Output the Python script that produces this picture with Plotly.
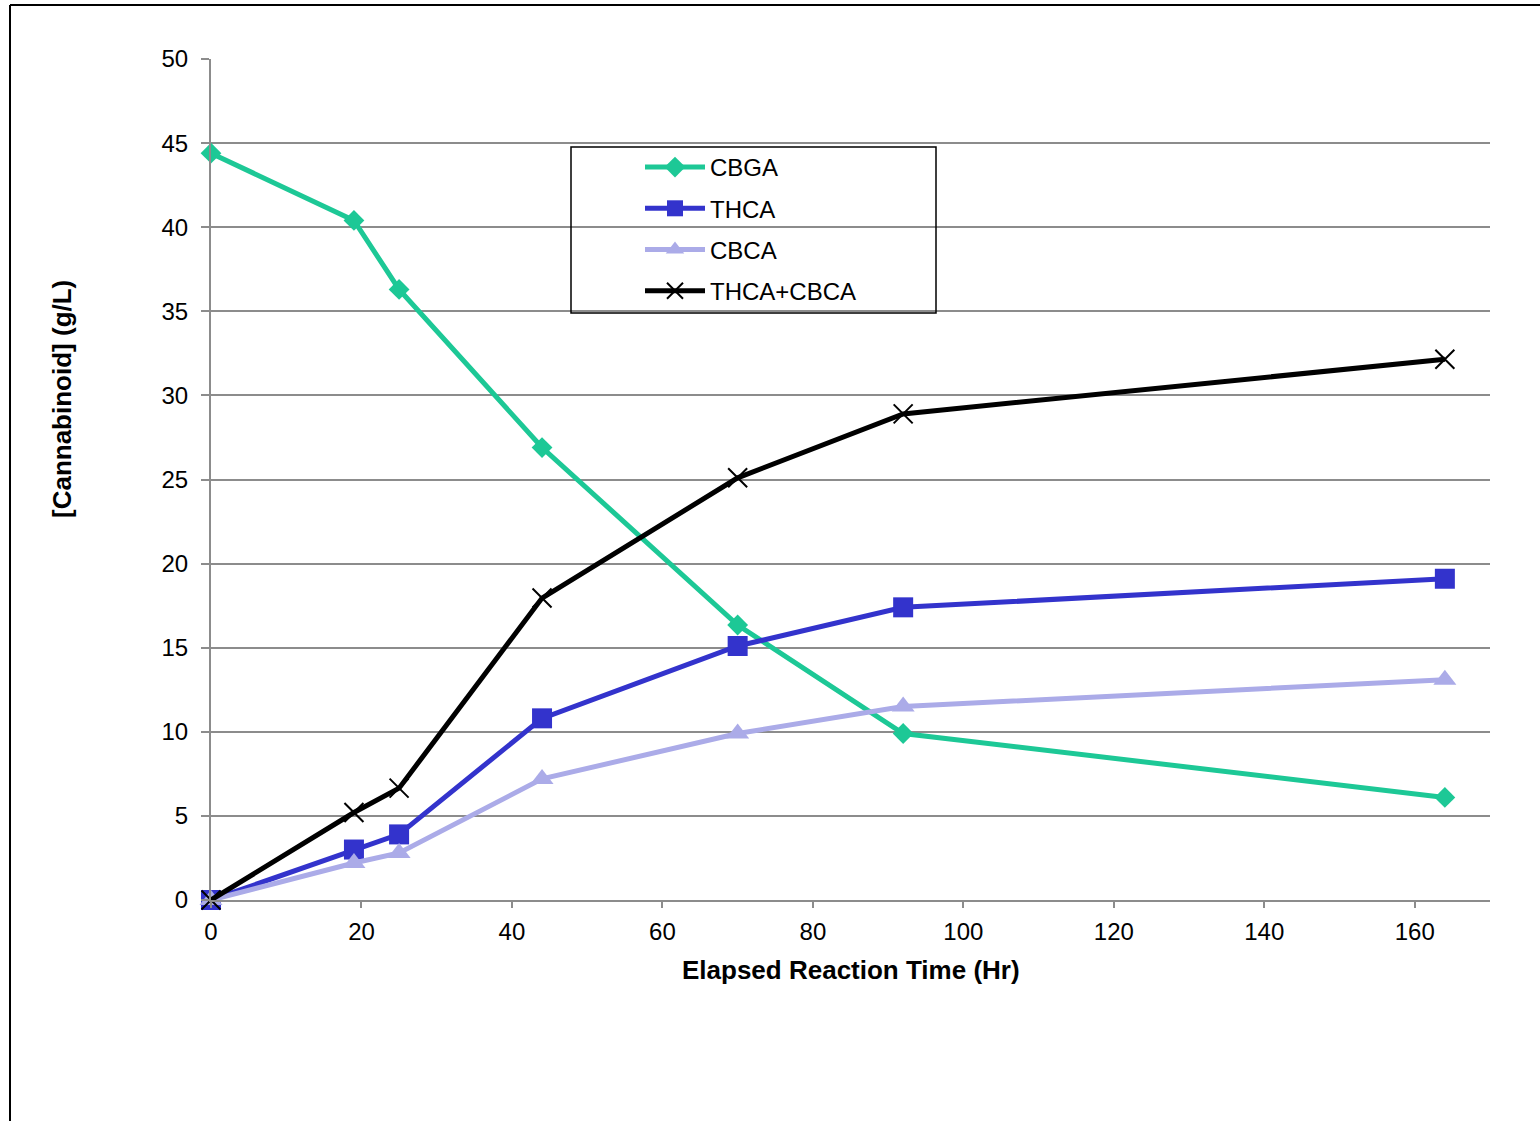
import plotly.graph_objects as go

time_hr = [0, 19, 25, 44, 70, 92, 164]
cbga = [44.4, 40.4, 36.3, 26.9, 16.35, 9.9, 6.1]
thca = [0.0, 3.0, 3.9, 10.8, 15.1, 17.4, 19.1]
cbca = [0.0, 2.2, 2.8, 7.2, 9.9, 11.5, 13.1]
thca_cbca = [0.0, 5.2, 6.65, 17.95, 25.1, 28.9, 32.15]

x_ticks = [0, 20, 40, 60, 80, 100, 120, 140, 160]
y_ticks = [0, 5, 10, 15, 20, 25, 30, 35, 40, 45, 50]

FONT = "Liberation Sans, Arial, sans-serif"

fig = go.Figure()
series = [
    ("CBGA", cbga, "#1DC896", dict(symbol="diamond", size=16, color="#1DC896")),
    ("THCA", thca, "#3333CC", dict(symbol="square", size=20, color="#3333CC")),
    ("CBCA", cbca, "#ABABE8", dict(symbol="triangle-up", size=20, color="#ABABE8")),
    ("THCA+CBCA", thca_cbca, "#000000",
     dict(symbol="x-thin", size=19, color="#000000", line=dict(color="#000000", width=2))),
]
for i, (name, vals, col, mk) in enumerate(series):
    fig.add_trace(go.Scatter(
        x=time_hr, y=vals, name=name, mode="lines+markers",
        line=dict(color=col, width=5), marker=mk, cliponaxis=False,
        legendgroup=f"g{i}",
    ))

L, R, T, B = 211, 50, 59, 221
W, H = 1540, 1121
pw, ph = W - L - R, H - T - B

def px(x):
    return (x - L) / pw

def py(y):
    return (H - B - y) / ph

fig.update_layout(
    width=W, height=H,
    margin=dict(l=L, r=R, t=T, b=B, pad=0),
    paper_bgcolor="white", plot_bgcolor="white",
    font=dict(family=FONT, size=24, color="black"),
    showlegend=True,
    legend=dict(
        x=px(640), y=py(145), xanchor="left", yanchor="top",
        bgcolor="rgba(0,0,0,0)", borderwidth=0,
        font=dict(family=FONT, size=24, color="black"),
        tracegroupgap=7, traceorder="grouped",
        itemwidth=60,
    ),
    xaxis=dict(
        range=[0, 170], tickvals=x_ticks, ticktext=[str(v) for v in x_ticks],
        showgrid=False, zeroline=False,
        showline=True, linecolor="#8C8C8C", linewidth=2,
        ticks="outside", ticklen=6, tickcolor="#8C8C8C", tickwidth=1.5,
        tickfont=dict(family=FONT, size=24),
        ticklabelstandoff=3,
    ),
    yaxis=dict(
        range=[0, 50], tickvals=y_ticks, ticktext=[str(v) for v in y_ticks],
        showgrid=True, gridcolor="#8C8C8C", gridwidth=1.5,
        zeroline=False,
        showline=True, linecolor="#8C8C8C", linewidth=2,
        ticks="outside", ticklen=8, tickcolor="#8C8C8C", tickwidth=1.5,
        tickfont=dict(family=FONT, size=24),
        ticklabelstandoff=8,
    ),
    shapes=[
        dict(type="rect", xref="paper", yref="paper",
             x0=px(571), x1=px(936), y0=py(313), y1=py(147),
             line=dict(color="black", width=1.5), fillcolor="rgba(0,0,0,0)", layer="above"),
        dict(type="line", xref="paper", yref="paper",
             x0=px(10), x1=px(10), y0=py(5), y1=py(1125),
             line=dict(color="black", width=2)),
        dict(type="line", xref="paper", yref="paper",
             x0=px(10), x1=px(1545), y0=py(5), y1=py(5),
             line=dict(color="black", width=2)),
    ],
    annotations=[
        dict(text="<b>Elapsed Reaction Time (Hr)</b>", xref="paper", yref="paper",
             x=px(851), y=py(970), xanchor="center", yanchor="middle",
             showarrow=False, font=dict(family=FONT, size=26)),
        dict(text="<b>[Cannabinoid] (g/L)</b>", xref="paper", yref="paper",
             x=px(62), y=py(399), xanchor="center", yanchor="middle",
             textangle=-90, showarrow=False, font=dict(family=FONT, size=26)),
    ],
)

fig.write_html("out.html")
